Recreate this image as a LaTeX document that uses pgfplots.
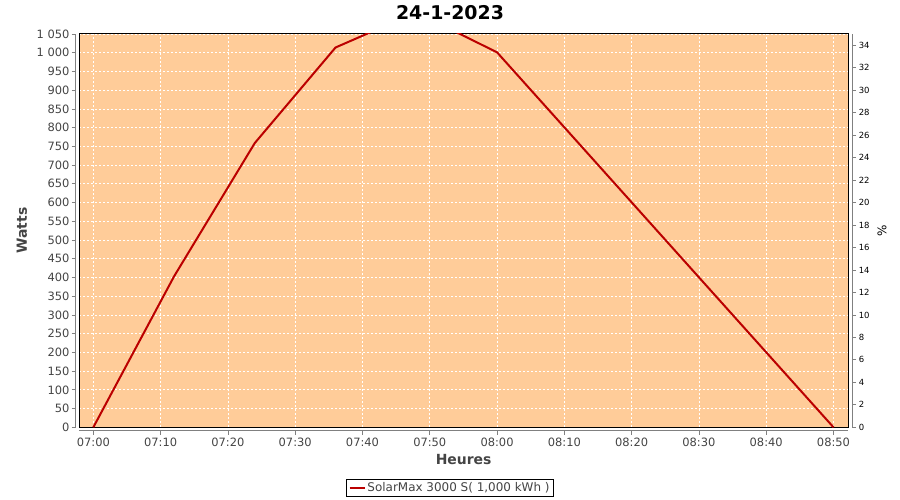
\documentclass[border=0pt]{standalone}
\usepackage{fontspec}
\setmainfont{DejaVu Sans}
\usepackage{pgfplots}
\pgfplotsset{compat=1.18}
\definecolor{bgor}{RGB}{255,204,153}
\definecolor{serie}{RGB}{187,0,0}
\definecolor{tickgray}{RGB}{68,68,68}
\begin{document}
\begin{tikzpicture}
\path[use as bounding box] (0bp,0bp) rectangle (900bp,500bp);
\node[font=\bfseries\fontsize{19}{19}\selectfont] at (450bp,487.5bp) {24-1-2023};
\begin{axis}[
  name=a, at={(79bp,72.7bp)}, anchor=south west,
  width=769.3bp, height=393.3bp, scale only axis,
  xmin=-2.13, xmax=112.2, ymin=0, ymax=1050,
  xtick={0,10,...,110},
  xticklabels={07:00,07:10,07:20,07:30,07:40,07:50,08:00,08:10,08:20,08:30,08:40,08:50},
  ytick={0,50,...,1050},
  yticklabels={0,50,100,150,200,250,300,350,400,450,500,550,600,650,700,750,800,850,900,950,1 000,1 050},
  axis background/.style={fill=bgor},
  axis line style={black, line width=1bp},
  grid=major,
  major grid style={white, dash pattern=on 2bp off 2bp, line width=0.7bp},
  tick align=outside, xtick pos=bottom, ytick pos=left,
  major tick length=4bp,
  every major x tick/.append style={gray, line width=0.8bp, yshift=-3.7bp},
  every major y tick/.append style={gray, line width=0.8bp, xshift=-3.3bp},
  xticklabel style={font=\fontsize{11.5}{12}\selectfont, text=tickgray, yshift=-3bp},
  yticklabel style={font=\fontsize{11.5}{12}\selectfont, text=tickgray, xshift=-2bp},
  xlabel={Heures}, ylabel={Watts},
  xlabel style={font=\bfseries\fontsize{14}{14}\selectfont, text=tickgray, at={(axis description cs:0.5,-0.0831)}, anchor=center},
  ylabel style={font=\bfseries\fontsize{14}{14}\selectfont, text=tickgray, at={(axis description cs:-0.0741,0.5)}, anchor=center},
  clip=true,
  legend style={at={(axis description cs:0.4823,-0.1538)}, anchor=center, draw=black, line width=1bp,
    font=\fontsize{12}{12}\selectfont, text=tickgray, inner xsep=2bp, inner ysep=1.5bp,
    /tikz/every even column/.append style={column sep=2bp}},
  legend image code/.code={\draw[#1, line width=2bp] (0bp,0bp) -- (15bp,0bp);},
]
\addplot[serie, line width=2bp] coordinates {(0,0) (12,403) (24,759) (36,1014) (48,1108) (60,1001) (110,0)};
\addlegendentry{SolarMax 3000 S( 1,000 kWh )}
\end{axis}
\begin{axis}[
  at={(79bp,72.7bp)}, anchor=south west,
  width=769.3bp, height=393.3bp, scale only axis,
  xmin=-2.13, xmax=112.2, ymin=0, ymax=35,
  axis x line=none, axis y line*=right,
  axis line style={draw=none},
  ytick={0,2,...,34},
  /pgf/number format/assume math mode=true,
  tick align=outside,
  major tick length=4bp,
  every major y tick/.append style={gray, line width=0.8bp, xshift=3.7bp},
  yticklabel style={font=\fontsize{8.5}{9}\selectfont, text=black, xshift=3bp},
  ylabel={\%},
  ylabel style={font=\fontsize{12}{12}\selectfont, text=black, at={(axis description cs:1.0438,0.5)}, anchor=center, rotate=0},
]
\addplot[draw=none] coordinates {(0,0)};
\end{axis}
\draw[gray, line width=1bp] ([xshift=-3.3bp]a.south west) -- ([xshift=-3.3bp]a.north west);
\draw[gray, line width=1bp] ([yshift=-3.7bp]a.south west) -- ([yshift=-3.7bp]a.south east);
\draw[gray, line width=1bp] ([xshift=3.7bp]a.south east) -- ([xshift=3.7bp]a.north east);
\end{tikzpicture}
\end{document}
